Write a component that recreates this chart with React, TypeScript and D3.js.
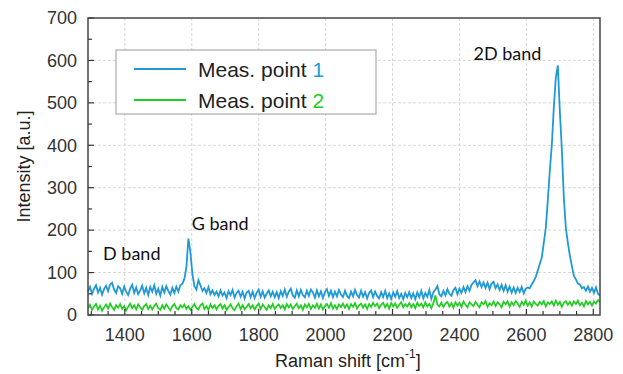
import * as d3 from 'd3';

// Raman spectra, sampled every 6 cm-1 from 1290 to 2820
const shiftStart = 1290;
const shiftStep = 6;

const point1 = [
  55, 66, 50, 62, 70, 53, 64, 48, 61, 69, 56, 72, 76, 60, 52, 68,
  63, 50, 67, 55, 47, 62, 71, 52, 65, 49, 58, 69, 51, 64, 47, 66,
  55, 70, 50, 62, 46, 66, 53, 68, 57, 48, 64, 52, 67, 55, 70, 74,
  85, 112, 180, 148, 96, 68, 60, 82, 70, 57, 63, 52, 66, 49, 58, 47,
  55, 44, 58, 46, 53, 40, 56, 47, 59, 41, 52, 57, 43, 55, 39, 53,
  57, 42, 55, 40, 52, 60, 43, 56, 41, 50, 58, 44, 55, 42, 54, 40,
  56, 45, 60, 43, 55, 62, 46, 41, 58, 44, 59, 47, 42, 57, 45, 60,
  53, 41, 58, 44, 56, 40, 54, 61, 45, 57, 42, 55, 44, 59, 48, 42,
  57, 45, 40, 55, 44, 59, 47, 41, 57, 43, 54, 39, 52, 58, 42, 55,
  45, 39, 54, 42, 57, 40, 51, 38, 53, 43, 56, 40, 50, 37, 52, 42,
  54, 40, 51, 37, 53, 42, 57, 39, 52, 43, 59, 38, 53, 60, 68, 49,
  44, 57, 46, 61, 50, 45, 59, 64, 49, 62, 52, 66, 54, 68, 57, 71,
  77, 82, 68, 79, 66, 77, 64, 76, 61, 74, 78, 63, 72, 59, 71, 57,
  70, 55, 67, 53, 65, 52, 64, 54, 66, 51, 62, 65, 63, 72, 80, 90,
  105, 120, 135, 170, 205, 270, 340, 400, 490, 560, 588, 480, 390, 275, 205, 170,
  140, 115, 92, 84, 74, 72, 63, 66, 57, 67, 55, 64, 52, 65, 50, 46,
];

const point2 = [
  15, 24, 12, 20, 26, 13, 22, 10, 18, 25, 15, 27, 19, 12, 23, 17,
  26, 14, 21, 11, 19, 27, 16, 23, 13, 25, 18, 12, 21, 26, 14, 22,
  13, 21, 27, 16, 12, 23, 15, 25, 18, 11, 21, 26, 16, 13, 23, 18,
  25, 14, 21, 12, 19, 26, 16, 13, 23, 27, 14, 21, 12, 25, 16, 23,
  13, 21, 26, 15, 23, 12, 19, 25, 16, 11, 21, 27, 14, 23, 13, 19,
  26, 16, 23, 13, 21, 27, 14, 25, 18, 12, 23, 16, 26, 14, 21, 25,
  16, 23, 13, 26, 18, 25, 14, 21, 27, 16, 23, 12, 25, 18, 26, 14,
  23, 17, 27, 15, 25, 13, 21, 26, 17, 28, 15, 23, 14, 25, 19, 27,
  17, 25, 14, 26, 19, 28, 15, 23, 27, 17, 25, 14, 26, 19, 29, 21,
  27, 16, 24, 29, 18, 26, 15, 28, 20, 27, 17, 24, 30, 18, 26, 20,
  28, 18, 26, 16, 29, 21, 27, 18, 30, 20, 26, 16, 28, 46, 25, 20,
  29, 19, 27, 31, 20, 28, 17, 30, 22, 29, 19, 32, 24, 18, 30, 25,
  21, 31, 24, 18, 30, 25, 33, 19, 28, 23, 32, 21, 30, 25, 18, 31,
  25, 32, 20, 30, 23, 33, 27, 19, 31, 24, 34, 22, 30, 20, 32, 26,
  22, 31, 25, 33, 20, 30, 26, 32, 22, 34, 24, 31, 19, 29, 33, 24,
  31, 22, 32, 26, 34, 23, 29, 20, 33, 25, 31, 22, 32, 27, 35, 31,
];

const xTicks = [1400, 1600, 1800, 2000, 2200, 2400, 2600, 2800];
const yTicks = [0, 100, 200, 300, 400, 500, 600, 700];

const bands = [
  { label: '2D band', shift: 2645, value: 600, anchor: 'end' },
  { label: 'G band', shift: 1600, value: 200, anchor: 'start' },
  { label: 'D band', shift: 1335, value: 130, anchor: 'start' },
];

const legendItems = [
  { label: 'Meas. point ', num: '1', color: '#1f9ad6' },
  { label: 'Meas. point ', num: '2', color: '#22cc22' },
];

export default function App() {
  const width = 623;
  const height = 374;
  const margin = { top: 18, right: 23, bottom: 59, left: 88 };

  const x = d3
    .scaleLinear()
    .domain([1290, 2820])
    .range([margin.left, width - margin.right]);
  const y = d3
    .scaleLinear()
    .domain([0, 700])
    .range([height - margin.bottom, margin.top]);

  const line = d3
    .line<number>()
    .x((_, i) => x(shiftStart + i * shiftStep))
    .y((d) => y(d));

  const minorX = d3.range(1300, 2821, 50);
  const minorY = d3.range(0, 701, 50);
  const font = 'Arial, "Liberation Sans", sans-serif';
  const x0 = x.range()[0];
  const x1 = x.range()[1];
  const yB = y.range()[0];
  const yT = y.range()[1];

  return (
    <svg
      width={width}
      height={height}
      style={{ position: 'absolute', left: 0, top: 0, background: '#fff' }}
    >
      {/* grid */}
      {xTicks.map((t) => (
        <line key={'gx' + t} x1={x(t)} x2={x(t)} y1={yT} y2={yB}
          stroke="#d8d8d8" strokeDasharray="3,2" />
      ))}
      {yTicks.slice(1, -1).map((t) => (
        <line key={'gy' + t} x1={x0} x2={x1} y1={y(t)} y2={y(t)}
          stroke="#d8d8d8" strokeDasharray="3,2" />
      ))}

      {/* spectra */}
      <path d={line(point2) || ''} fill="none" stroke="#22cc22" strokeWidth={1.7} />
      <path d={line(point1) || ''} fill="none" stroke="#1f9ad6" strokeWidth={1.8} />

      {/* ticks */}
      {minorX.map((t) => (
        <line key={'tx' + t} x1={x(t)} x2={x(t)} y1={yB}
          y2={yB - (t % 200 === 0 ? 6 : 4)} stroke="#333" strokeWidth={1.2} />
      ))}
      {minorY.map((t) => (
        <line key={'ty' + t} x1={x0} x2={x0 + (t % 100 === 0 ? 6 : 4)}
          y1={y(t)} y2={y(t)} stroke="#333" strokeWidth={1.2} />
      ))}

      {/* frame */}
      <rect x={x0} y={yT} width={x1 - x0} height={yB - yT}
        fill="none" stroke="#444" strokeWidth={1.5} />

      {/* tick labels */}
      {xTicks.map((t) => (
        <text key={'lx' + t} x={x(t)} y={yB + 26} textAnchor="middle"
          fontFamily={font} fontSize={18} fill="#333">{t}</text>
      ))}
      {yTicks.map((t) => (
        <text key={'ly' + t} x={x0 - 11} y={y(t)} dy="0.35em" textAnchor="end"
          fontFamily={font} fontSize={18} fill="#333">{t}</text>
      ))}

      {/* axis titles */}
      <text transform={`translate(30,${(yT + yB) / 2}) rotate(-90)`}
        textAnchor="middle" fontFamily={font} fontSize={18} fill="#222">
        Intensity [a.u.]
      </text>
      <text x={275} y={367} fontFamily={font} fontSize={18} fill="#222">
        Raman shift [cm
        <tspan fontSize={12} dy={-9}>-1</tspan>
        <tspan dy={9}>]</tspan>
      </text>

      {/* band labels */}
      {bands.map((b) => (
        <text key={b.label} x={x(b.shift)} y={y(b.value)}
          textAnchor={b.anchor}
          fontFamily="Lato, 'Open Sans', sans-serif" fontSize={18} fill="#111">
          {b.label}
        </text>
      ))}

      {/* legend */}
      <rect x={116} y={50} width={260} height={64} fill="#fff" stroke="#999" />
      {legendItems.map((d, i) => (
        <g key={d.num} transform={`translate(0,${69 + i * 31})`}>
          <line x1={134} x2={186} y1={0} y2={0} stroke={d.color} strokeWidth={2} />
          <text x={198} y={0} dy="0.36em" fontFamily={font} fontSize={21} fill="#222">
            {d.label}
            <tspan fill={d.color}>{d.num}</tspan>
          </text>
        </g>
      ))}
    </svg>
  );
}
